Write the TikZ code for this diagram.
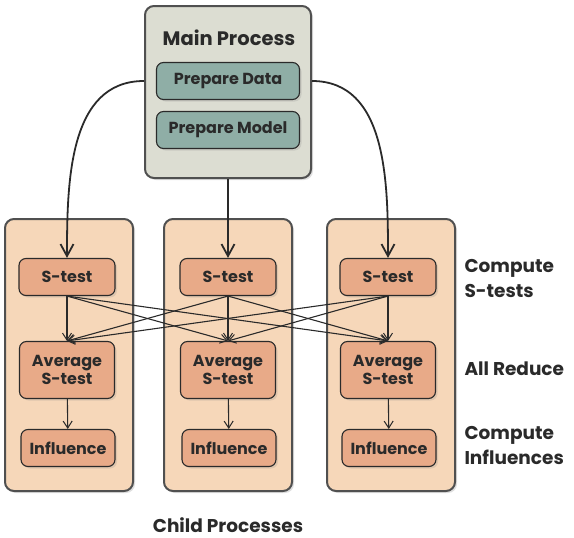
\documentclass[tikz,border=0pt]{standalone}
\usepackage{fontspec}
\setmainfont{Poppins}
\usepackage{tikz}
\usetikzlibrary{arrows.meta}
\usetikzlibrary{shadows}
\usetikzlibrary{positioning}

\definecolor{mainfill}{HTML}{DCDDD2}
\definecolor{prepfill}{HTML}{8FAEA6}
\definecolor{childfill}{HTML}{F6D7B9}
\definecolor{stepfill}{HTML}{E8AA88}
\definecolor{edgegray}{HTML}{505050}
\definecolor{ink}{HTML}{2A2A2A}

\begin{document}
\begin{tikzpicture}[x=1pt, y=-1pt,
        every node/.style={text=ink, font=\bfseries\fontsize{16}{18}\selectfont},
        proc/.style={draw=edgegray, line width=2pt, rounded corners=9pt,
          drop shadow={opacity=0.25, shadow xshift=2pt, shadow yshift=-2pt}},
        task/.style={draw=ink, line width=1.1pt, rounded corners=7pt, align=center,
          drop shadow={opacity=0.2, shadow xshift=2pt, shadow yshift=-2pt}},
        prep/.style={task, fill=prepfill, minimum width=143pt, minimum height=37pt},
        stestbox/.style={task, fill=stepfill, minimum width=96pt, minimum height=37pt},
        avgbox/.style={task, fill=stepfill, minimum width=95pt, minimum height=57pt},
        inflbox/.style={task, fill=stepfill, minimum width=94pt, minimum height=37pt},
        sidelabel/.style={anchor=west, align=left, font=\bfseries\fontsize{18.5}{25}\selectfont},
        spawn/.style={-{Straight Barb[length=12pt, width=13pt, line width=1.8pt]}, line width=1.8pt, draw=ink},
        flow/.style={-{Straight Barb[length=7pt, width=9pt, line width=1pt]}, line width=1.1pt, draw=ink}
        ]
        \useasboundingbox (0,0) rectangle (574,538);

        \node[proc, fill=mainfill, minimum width=166pt, minimum height=172pt] (main) at (228,92) {};
        \node[font=\bfseries\fontsize{19.5}{22}\selectfont] (mainlabel) at (229,38) {Main Process};
        \node[prep] (data) at (228,81) {Prepare Data};
        \node[prep] (model) at (228,130) {Prepare Model};

        \foreach \c/\x in {A/69, B/228, C/391} {
          \node[proc, fill=childfill, minimum width=128pt, minimum height=272pt] (child\c) at (\x,355) {};
        }
        \foreach \c/\x in {A/67, B/228, C/388} {
          \node[stestbox] (st\c) at (\x,277) {S-test};
          \node[avgbox] (avg\c) at (\x,370) {Average\\S-test};
          \node[inflbox] (infl\c) at (\x+1,448) {Influence};
          \draw[flow] (avg\c) -- (infl\c);
        }
        \foreach \s in {A,B,C} {
          \foreach \t in {A,B,C} {
            \draw[flow] (st\s.south) -- (avg\t.north);
          }
        }

        \draw[spawn] (main.west |- data) to[out=180, in=90] (stA.north);
        \draw[spawn] (main.east |- data) to[out=0, in=90] (stC.north);
        \draw[spawn] (main.south) -- (stB.north);

        \node[sidelabel] (computest) at (461,279) {Compute\\S-tests};
        \node[sidelabel] (allreduce) at (461,369) {All Reduce};
        \node[sidelabel] (computeinf) at (461,446) {Compute\\Influences};
        \node[font=\bfseries\fontsize{18.5}{20}\selectfont, inner sep=1pt] (childlabel) at (228,525) {Child Processes};
\end{tikzpicture}
\end{document}
